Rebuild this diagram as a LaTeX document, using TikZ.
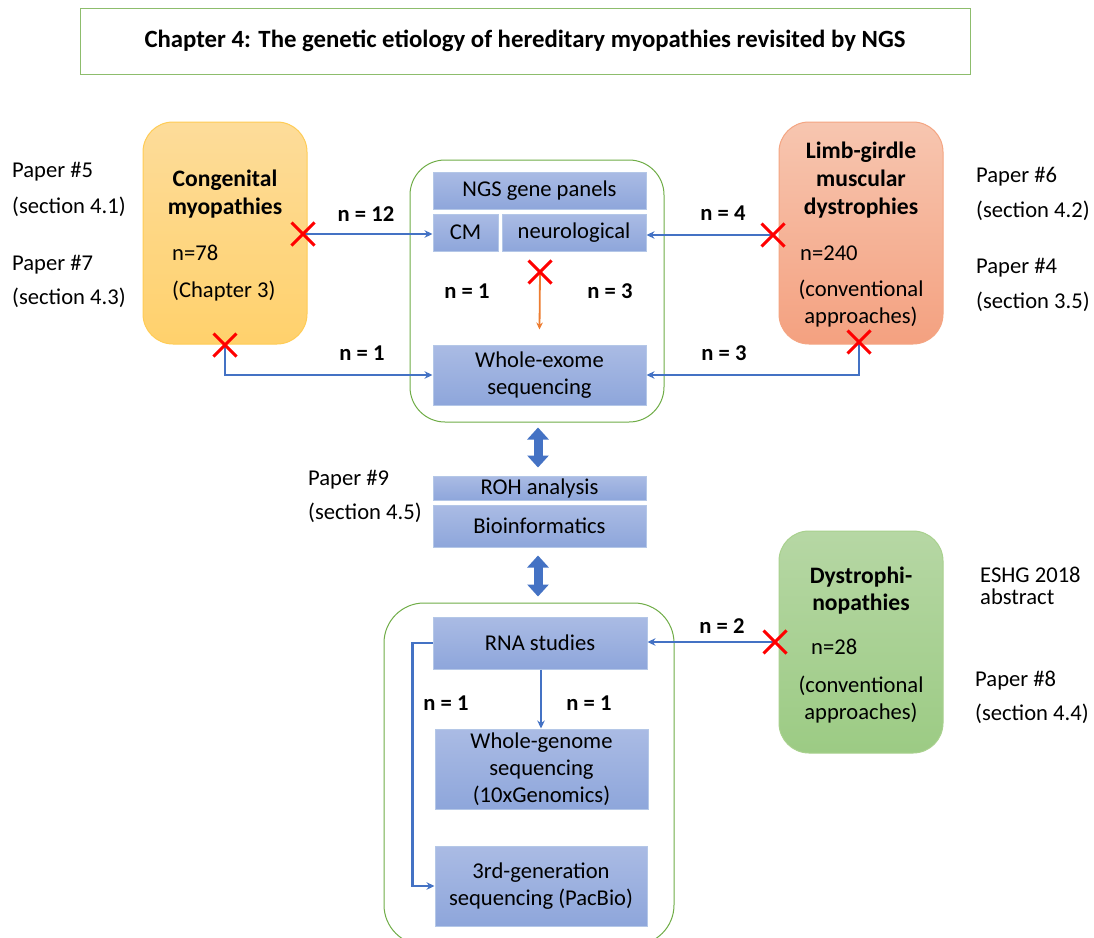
\documentclass[tikz,border=0pt]{standalone}
\usepackage{fontspec}
\setmainfont{Carlito}
\usetikzlibrary{arrows.meta,shapes.misc,calc}
\definecolor{bluetop}{HTML}{AABBE4}
\definecolor{bluebot}{HTML}{8EA6DB}
\definecolor{blueedge}{HTML}{B4C7E7}
\definecolor{orgtop}{HTML}{FDDC9A}
\definecolor{orgbot}{HTML}{FFD16C}
\definecolor{orgedge}{HTML}{FFCC55}
\definecolor{saltop}{HTML}{F7C6B0}
\definecolor{salbot}{HTML}{F4A180}
\definecolor{saledge}{HTML}{F4A582}
\definecolor{grntop}{HTML}{B6D7A4}
\definecolor{grnbot}{HTML}{9CCB84}
\definecolor{grnedge}{HTML}{A9D18E}
\definecolor{frame}{HTML}{70AD47}
\definecolor{arrblue}{HTML}{4472C4}
\definecolor{arrorange}{HTML}{ED7D31}
\definecolor{xred}{HTML}{FF0000}
\newcommand\fsz{\fontsize{22.6}{27}\selectfont}
\newcommand\fsb{\fontsize{23.6}{28}\selectfont\bfseries}
\begin{document}
\begin{tikzpicture}[x=1pt,y=-1pt,
  bluebox/.style={draw=blueedge, line width=1pt, top color=bluetop, bottom color=bluebot, inner sep=0pt, font=\fsz, align=center, text=black},
  catbox/.style={line width=1pt, rounded corners=30pt, minimum width=164pt, minimum height=222pt, inner sep=0pt},
  container/.style={draw=frame, line width=1pt, inner sep=0pt},
  lbl/.style={inner sep=0pt, font=\fsz, anchor=west},
  ctxt/.style={inner sep=0pt, font=\fsz, align=center},
  btxt/.style={inner sep=0pt, font=\fsz\bfseries, align=center},
  cattitle/.style={inner sep=0pt, font=\fsb, align=center},
  redx/.style={cross out, draw=xred, line width=3pt, minimum size=20pt, inner sep=0pt},
  bluearr/.style={draw=arrblue, line width=2.4pt, -{Stealth[length=8pt,width=7.5pt]}},
  orangearr/.style={draw=arrorange, line width=1.8pt, -{Stealth[length=7pt,width=6.5pt]}},
  blockarr/.style={draw=arrblue, line width=9pt, {Triangle[length=12pt,width=21pt]}-{Triangle[length=12pt,width=21pt]}}
]
\useasboundingbox (0,0) rectangle (1094,937);
\clip (0,0) rectangle (1094,937);
\fill[white] (0,0) rectangle (1094,937);

% title
\node[draw=frame!80, line width=1pt, minimum width=890pt, minimum height=66pt, inner sep=0pt,
  font=\fontsize{24.8}{28}\selectfont\bfseries] (title) at (525,41) {Chapter 4: The genetic etiology of hereditary myopathies revisited by NGS};

% containers
\node[container, rounded corners=35pt, minimum width=254pt, minimum height=262pt] (cbox) at (537,291) {};
\node[container, rounded corners=40pt, minimum width=290pt, minimum height=342pt] (bbox) at (529,774) {};

% category boxes
\node[catbox, draw=orgedge, top color=orgtop, bottom color=orgbot] (cm78) at (225,233) {};
\node[catbox, draw=saledge, top color=saltop, bottom color=salbot] (lgmd) at (861,233) {};
\node[catbox, draw=grnedge, top color=grntop, bottom color=grnbot] (dys) at (861,642) {};

\node[cattitle] (cmt) at (225,194) {Congenital\\myopathies};
\node[lbl] (cmn) at (172,253) {n=78};
\node[lbl] (cmc) at (172,291) {(Chapter 3)};

\node[cattitle] (lgt) at (861,180) {Limb-girdle\\muscular\\dystrophies};
\node[lbl] (lgn) at (800,253) {n=240};
\node[ctxt] (lgc) at (861,304) {(conventional\\approaches)};

\node[cattitle, font=\fontsize{23.6}{27}\selectfont\bfseries] (dyt) at (861,591) {Dystrophi-\\nopathies};
\node[lbl] (dyn) at (811,647) {n=28};
\node[ctxt] (dyc) at (861,700) {(conventional\\approaches)};

% blue boxes
\node[bluebox, minimum width=213pt, minimum height=37pt] (ngs) at (539.5,190.5) {NGS gene panels};
\node[bluebox, minimum width=65pt, minimum height=37pt] (cm) at (465.5,232.5) {CM};
\node[bluebox, minimum width=144pt, minimum height=37pt] (neuro) at (574,232.5) {neurological};
\node[bluebox, minimum width=213pt, minimum height=60pt] (wes) at (539.5,375) {Whole-exome\\sequencing};
\node[bluebox, minimum width=213pt, minimum height=24pt] (roh) at (539.5,488) {ROH analysis};
\node[bluebox, minimum width=213pt, minimum height=42pt] (bio) at (539.5,526) {Bioinformatics};
\node[bluebox, minimum width=214pt, minimum height=52pt] (rna) at (540,643) {RNA studies};
\node[bluebox, minimum width=213pt, minimum height=80pt] (wgs) at (541.5,769) {Whole-genome\\sequencing\\(10xGenomics)};
\node[bluebox, minimum width=212pt, minimum height=80pt] (pac) at (541,886) {3rd-generation\\sequencing (PacBio)};

% side labels
\node[lbl] (p5) at (12,172) {Paper \#5};
\node[lbl] (s41) at (12,207) {(section 4.1)};
\node[lbl] (p7) at (12,265) {Paper \#7};
\node[lbl] (s43) at (12,298) {(section 4.3)};
\node[lbl] (p6) at (976,177) {Paper \#6};
\node[lbl] (s42) at (976,211) {(section 4.2)};
\node[lbl] (p4) at (976,268) {Paper \#4};
\node[lbl] (s35) at (976,302) {(section 3.5)};
\node[lbl] (p9) at (308,480) {Paper \#9};
\node[lbl] (s45) at (308,513) {(section 4.5)};
\node[lbl] (eshg) at (980,575) {ESHG 2018};
\node[lbl] (abs) at (980,597) {abstract};
\node[lbl] (p8) at (975,681) {Paper \#8};
\node[lbl] (s44) at (975,714) {(section 4.4)};

% n labels
\node[btxt] (n12) at (366,214) {n = 12};
\node[btxt] (n4) at (723,213) {n = 4};
\node[btxt] (n1a) at (467,291) {n = 1};
\node[btxt] (n3a) at (610,291) {n = 3};
\node[btxt] (n1b) at (362,353) {n = 1};
\node[btxt] (n3b) at (724,353) {n = 3};
\node[btxt] (n2) at (722,626) {n = 2};
\node[btxt] (n1c) at (446,703) {n = 1};
\node[btxt] (n1d) at (589,703) {n = 1};

% cross anchors
\coordinate (xa) at (303,234);
\coordinate (xb) at (225,345);
\coordinate (xc) at (773,235);
\coordinate (xd) at (859,342);
\coordinate (xe) at (540,272);
\coordinate (xf) at (775,642);

% connectors
\draw[bluearr] (xa) -- (xa -| cm.west);
\draw[bluearr] (xb) |- (wes.west);
\draw[bluearr] (xc) -- (xc -| neuro.east);
\draw[bluearr] (xd) |- (wes.east);
\draw[orangearr] (xe) -- ([yshift=15pt]wes.north);
\draw[bluearr] (rna.south -| 541,0) -- (wgs.north -| 541,0);
\draw[bluearr] (xf) -- (xf -| rna.east);
\draw[bluearr] (rna.west) -- ++(-20,0) |- (pac.west);

\coordinate (ax) at (538,0);
\draw[blockarr] ([yshift=-5pt]cbox.south -| ax) -- ([yshift=8pt]roh.north -| ax);
\draw[blockarr] ([yshift=-8pt]bio.south -| ax) -- ([yshift=6pt]bbox.north -| ax);

% red crosses
\node[redx] (ra) at (xa) {};
\node[redx] (rb) at (xb) {};
\node[redx] (rc) at (xc) {};
\node[redx] (rd) at (xd) {};
\node[redx] (re) at (xe) {};
\node[redx] (rf) at (xf) {};
\end{tikzpicture}
\end{document}
